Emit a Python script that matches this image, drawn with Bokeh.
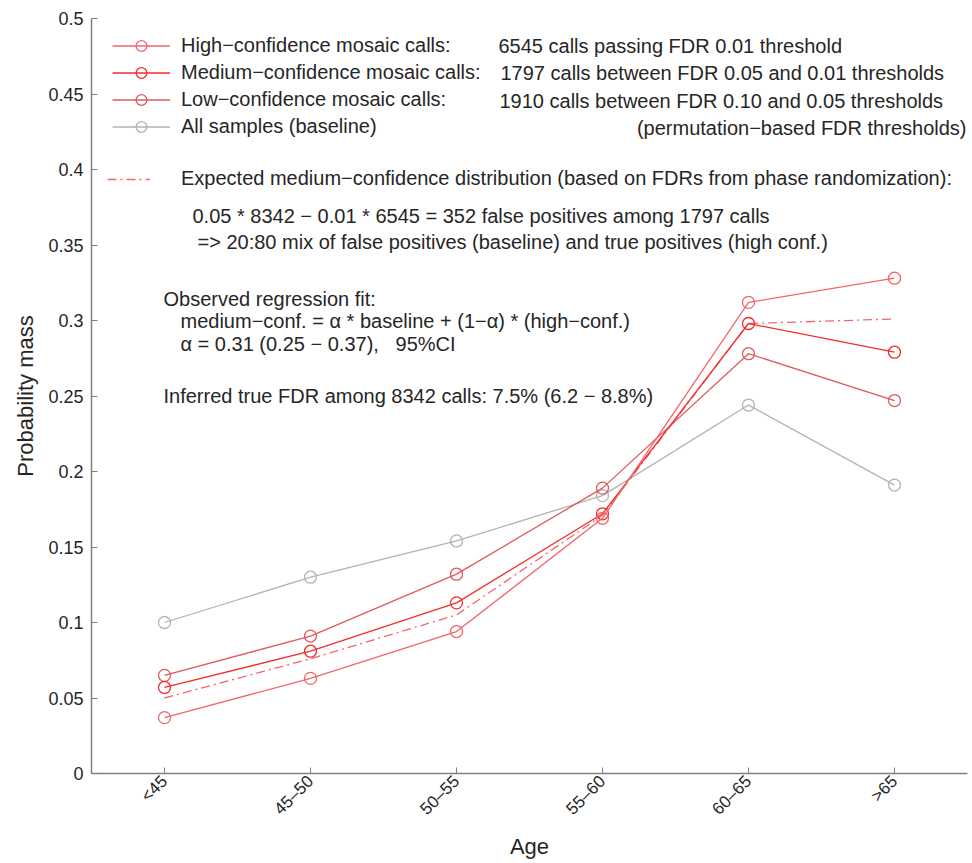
import math
from bokeh.plotting import figure
from bokeh.models import (Label, Legend, LegendItem, FixedTicker,
                          CustomJSTickFormatter, Range1d)
from bokeh.embed import file_html
from bokeh.resources import INLINE

# ---- data ----
ages = ["<45", "45–50", "50–55", "55–60", "60–65", ">65"]
positions = [1, 2, 3, 4, 5, 6]
baseline = [0.100, 0.130, 0.154, 0.184, 0.244, 0.191]
high_conf = [0.037, 0.063, 0.094, 0.169, 0.312, 0.328]
medium_conf = [0.057, 0.081, 0.113, 0.172, 0.298, 0.279]
low_conf = [0.065, 0.091, 0.132, 0.189, 0.278, 0.247]
expected_medium = [0.050, 0.076, 0.105, 0.171, 0.298, 0.301]
y_ticks = [0.0, 0.05, 0.1, 0.15, 0.2, 0.25, 0.3, 0.35, 0.4, 0.45, 0.5]

FONT = "Liberation Sans"
TXT = "#262626"
C_HIGH = "#f2666a"
C_MED = "#f42c2c"
C_LOW = "#df5a5c"
C_BASE = "#b3b3b3"

p = figure(width=972, height=863, output_backend="svg", toolbar_location=None,
           x_range=Range1d(0.5, 6.5), y_range=Range1d(0, 0.5),
           min_border_left=91, min_border_right=5, min_border_top=18,
           min_border_bottom=90)
p.outline_line_color = None
p.xgrid.visible = False
p.ygrid.visible = False
p.background_fill_color = "white"
p.border_fill_color = "white"

# axes
for ax in (p.xaxis[0], p.yaxis[0]):
    ax.axis_line_color = "#7f7f7f"
    ax.axis_line_width = 1.5
    ax.major_tick_line_color = "#7f7f7f"
    ax.major_tick_in = 6
    ax.major_tick_out = 0
    ax.minor_tick_line_color = None
    ax.major_label_text_font = FONT
    ax.major_label_text_color = TXT
    ax.axis_label_text_font = FONT
    ax.axis_label_text_color = TXT
    ax.axis_label_text_font_style = "normal"
    ax.axis_label_text_font_size = "22px"

p.xaxis.ticker = FixedTicker(ticks=positions)
p.xaxis.major_label_overrides = {pos: lab for pos, lab in zip(positions, ages)}
p.xaxis.major_label_orientation = math.pi / 4
p.xaxis.major_label_text_font_size = "17px"
p.xaxis.axis_label = "Age"
p.xaxis.axis_label_standoff = 6

p.yaxis.ticker = FixedTicker(ticks=y_ticks)
p.yaxis.formatter = CustomJSTickFormatter(
    code="return tick.toFixed(2).replace(/0+$/, '').replace(/\\.$/, '');")
p.yaxis.major_label_text_font_size = "18px"
p.yaxis.major_label_standoff = 8
p.yaxis.axis_label = "Probability mass"
p.yaxis.axis_label_standoff = 7

LW = 1.3
MS = 12


def series(vals, color):
    ln = p.line(positions, vals, line_color=color, line_width=LW)
    sc = p.scatter(positions, vals, marker="circle", size=MS, line_color=color,
                   fill_color=None, line_width=LW)
    return ln, sc


l_base, s_base = series(baseline, C_BASE)
l_exp = p.line(positions, expected_medium, line_color=C_HIGH, line_width=LW,
               line_dash="9 4 2 4")
l_low, s_low = series(low_conf, C_LOW)
l_med, s_med = series(medium_conf, C_MED)
l_high, s_high = series(high_conf, C_HIGH)

# ---- legend ----
FRAME_L, FRAME_B = 91, 773

leg1 = Legend(items=[
    LegendItem(label="High−confidence mosaic calls:", renderers=[l_high, s_high]),
    LegendItem(label="Medium−confidence mosaic calls:", renderers=[l_med, s_med]),
    LegendItem(label="Low−confidence mosaic calls:", renderers=[l_low, s_low]),
    LegendItem(label="All samples (baseline)", renderers=[l_base, s_base]),
], location=(112 - FRAME_L, FRAME_B - 140), border_line_color=None,
    background_fill_alpha=0, padding=0, margin=0, spacing=0,
    glyph_width=58, glyph_height=27, label_height=27, label_standoff=11,
    label_text_font=FONT, label_text_font_size="20px", label_text_color=TXT)
p.add_layout(leg1)

leg2 = Legend(items=[
    LegendItem(label="Expected medium−confidence distribution (based on FDRs from phase randomization):",
               renderers=[l_exp]),
], location=(107 - FRAME_L, FRAME_B - 190), border_line_color=None,
    background_fill_alpha=0, padding=0, margin=0, spacing=0,
    glyph_width=43, glyph_height=20, label_height=20, label_standoff=31,
    label_text_font=FONT, label_text_font_size="20px", label_text_color=TXT)
p.add_layout(leg2)


def label(text, X, Y, align="left"):
    p.add_layout(Label(x=X - FRAME_L, y=FRAME_B - Y, x_units="screen", y_units="screen",
                       text=text, text_font=FONT, text_font_size="20px",
                       text_color=TXT, text_align=align, text_baseline="middle"))


NB = "\u00a0"
label("6545 calls passing FDR 0.01 threshold", 498, 45)
label("1797 calls between FDR 0.05 and 0.01 thresholds", 500, 72)
label("1910 calls between FDR 0.10 and 0.05 thresholds", 499, 100)
label("(permutation−based FDR thresholds)", 966, 127, align="right")
label("0.05 * 8342 − 0.01 * 6545 = 352 false positives among 1797 calls", 192, 215)
label("=> 20:80 mix of false positives (baseline) and true positives (high conf.)", 197, 241)
label("Observed regression fit:", 163, 298)
label("medium−conf. = α * baseline + (1−α) * (high−conf.)", 180, 320)
label("α = 0.31 (0.25 − 0.37)," + NB * 3 + "95%CI", 180, 343)
label("Inferred true FDR among 8342 calls: 7.5% (6.2 − 8.8%)", 163, 395)

open("out.html", "w").write(file_html(p, INLINE))
